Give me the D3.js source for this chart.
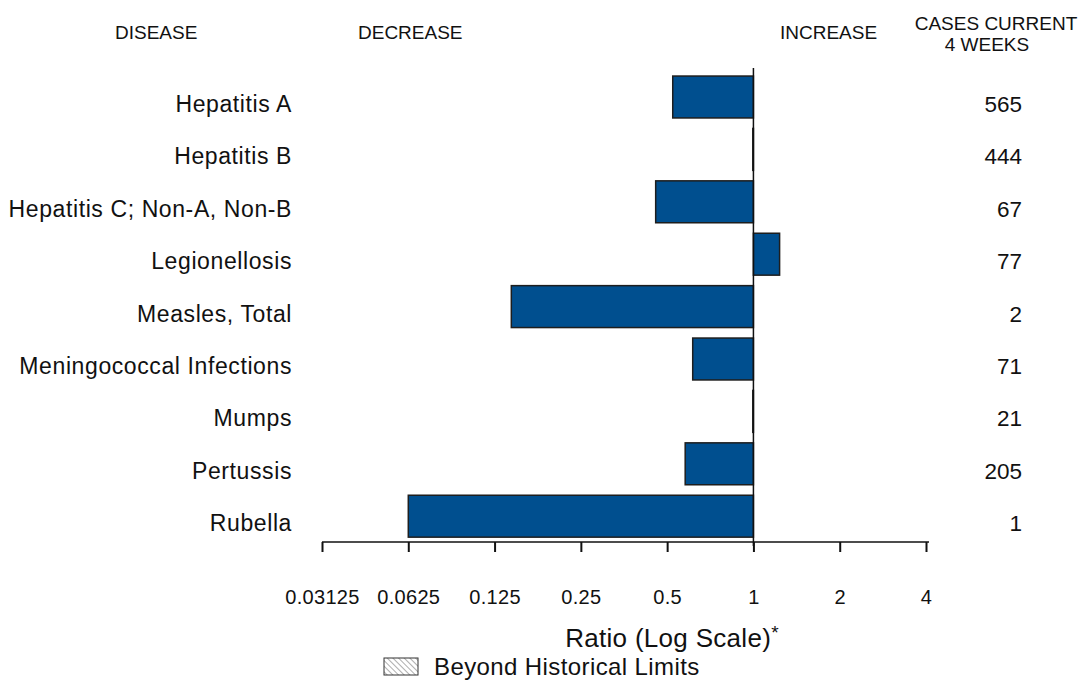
<!DOCTYPE html>
<html>
<head>
<meta charset="utf-8">
<script src="https://cdn.jsdelivr.net/npm/d3@7"></script>
<style>
  body { margin: 0; background: #fff; }
  svg { font-family: "Liberation Sans", Arial, sans-serif; }
</style>
</head>
<body>
<svg width="1085" height="700"></svg>
<script>
// chart data
var diseases = ['Hepatitis A', 'Hepatitis B', 'Hepatitis C; Non-A, Non-B', 'Legionellosis',
  'Measles, Total', 'Meningococcal Infections', 'Mumps', 'Pertussis', 'Rubella'];
var ratios = [0.523, 0.995, 0.456, 1.234, 0.143, 0.614, 0.995, 0.578, 0.0625];
var cases = [565, 444, 67, 77, 2, 71, 21, 205, 1];
var tickValues = [0.03125, 0.0625, 0.125, 0.25, 0.5, 1, 2, 4];
var tickLabels = ['0.03125', '0.0625', '0.125', '0.25', '0.5', '1', '2', '4'];

var svg = d3.select('svg');

// hatch pattern for the legend
var defs = svg.append('defs');
defs.append('pattern')
    .attr('id', 'hatch')
    .attr('width', 4)
    .attr('height', 4)
    .attr('patternUnits', 'userSpaceOnUse')
    .attr('patternTransform', 'rotate(-45)')
    .append('line')
    .attr('x1', 0).attr('y1', 0)
    .attr('x2', 0).attr('y2', 4)
    .style('stroke', '#333')
    .style('stroke-width', 0.8);

var x = d3.scaleLog()
    .base(2)
    .domain([0.03125, 4])
    .range([322, 926]);

var y = d3.scaleBand()
    .domain(diseases)
    .range([70.8, 542.4])
    .paddingInner(0.2)
    .paddingOuter(0.1);

// headers
var headStyle = function(sel) {
  sel.style('font-size', '19px').style('fill', '#111');
};
svg.append('text').text('DISEASE')
    .attr('x', 115).attr('y', 39)
    .call(headStyle);
svg.append('text').text('DECREASE')
    .attr('x', 358).attr('y', 39)
    .call(headStyle);
svg.append('text').text('INCREASE')
    .attr('x', 780).attr('y', 39)
    .call(headStyle);
svg.append('text').text('CASES CURRENT')
    .attr('x', 996).attr('y', 30)
    .attr('text-anchor', 'middle')
    .call(headStyle);
svg.append('text').text('4 WEEKS')
    .attr('x', 987).attr('y', 51)
    .attr('text-anchor', 'middle')
    .call(headStyle);

// bars
svg.append('g')
    .selectAll('rect')
    .data(diseases)
    .enter()
    .append('rect')
    .attr('x', function(d, i) { return Math.min(x(ratios[i]), x(1)); })
    .attr('y', function(d) { return y(d); })
    .attr('width', function(d, i) { return Math.abs(x(ratios[i]) - x(1)); })
    .attr('height', y.bandwidth())
    .style('fill', '#004f8f')
    .style('stroke', '#1e1e1e')
    .style('stroke-width', 1.5);

// disease labels
svg.append('g')
    .selectAll('text')
    .data(diseases)
    .enter()
    .append('text')
    .text(function(d) { return d; })
    .attr('x', 292)
    .attr('y', function(d) { return y(d) + y.bandwidth() / 2 + 15; })
    .attr('text-anchor', 'end')
    .style('font-size', '23px')
    .style('letter-spacing', '0.6px')
    .style('fill', '#111');

// case counts
svg.append('g')
    .selectAll('text')
    .data(cases)
    .enter()
    .append('text')
    .text(function(d) { return d; })
    .attr('x', 1022)
    .attr('y', function(d, i) { return y(diseases[i]) + y.bandwidth() / 2 + 15; })
    .attr('text-anchor', 'end')
    .style('font-size', '22.5px')
    .style('fill', '#111');

// reference line at ratio 1
svg.append('line')
    .attr('x1', x(1)).attr('x2', x(1))
    .attr('y1', 68).attr('y2', 546)
    .style('stroke', '#111')
    .style('stroke-width', 1.5);

// x axis
var xAxis = d3.axisBottom(x)
    .tickValues(tickValues)
    .tickFormat(function(d, i) { return tickLabels[i]; })
    .tickSize(10)
    .tickSizeOuter(0);

var axisG = svg.append('g')
    .attr('transform', 'translate(0,542)')
    .call(xAxis);
axisG.select('.domain')
    .attr('d', 'M' + x(0.03125) + ',0H' + (x(4) + 3))
    .style('stroke', '#111')
    .style('stroke-width', 1.5);
axisG.selectAll('.tick line')
    .style('stroke', '#111')
    .style('stroke-width', 2);
axisG.selectAll('.tick text')
    .attr('y', 62)
    .attr('dy', 0)
    .style('font-family', '"Liberation Sans", Arial, sans-serif')
    .style('font-size', '20px')
    .style('letter-spacing', '0.3px')
    .style('fill', '#111');

// axis title
var title = svg.append('text')
    .attr('x', 672).attr('y', 647)
    .attr('text-anchor', 'middle')
    .style('font-size', '26px')
    .style('letter-spacing', '0.3px')
    .style('fill', '#111');
title.append('tspan').text('Ratio (Log Scale)');
title.append('tspan').text('*').attr('dy', -8).style('font-size', '19px');

// legend
svg.append('rect')
    .attr('x', 384).attr('y', 658)
    .attr('width', 34).attr('height', 17)
    .style('fill', 'url(#hatch)')
    .style('stroke', '#333')
    .style('stroke-width', 1);
svg.append('text').text('Beyond Historical Limits')
    .attr('x', 434).attr('y', 675)
    .style('font-size', '24px')
    .style('letter-spacing', '0.4px')
    .style('fill', '#111');
</script>
</body>
</html>
